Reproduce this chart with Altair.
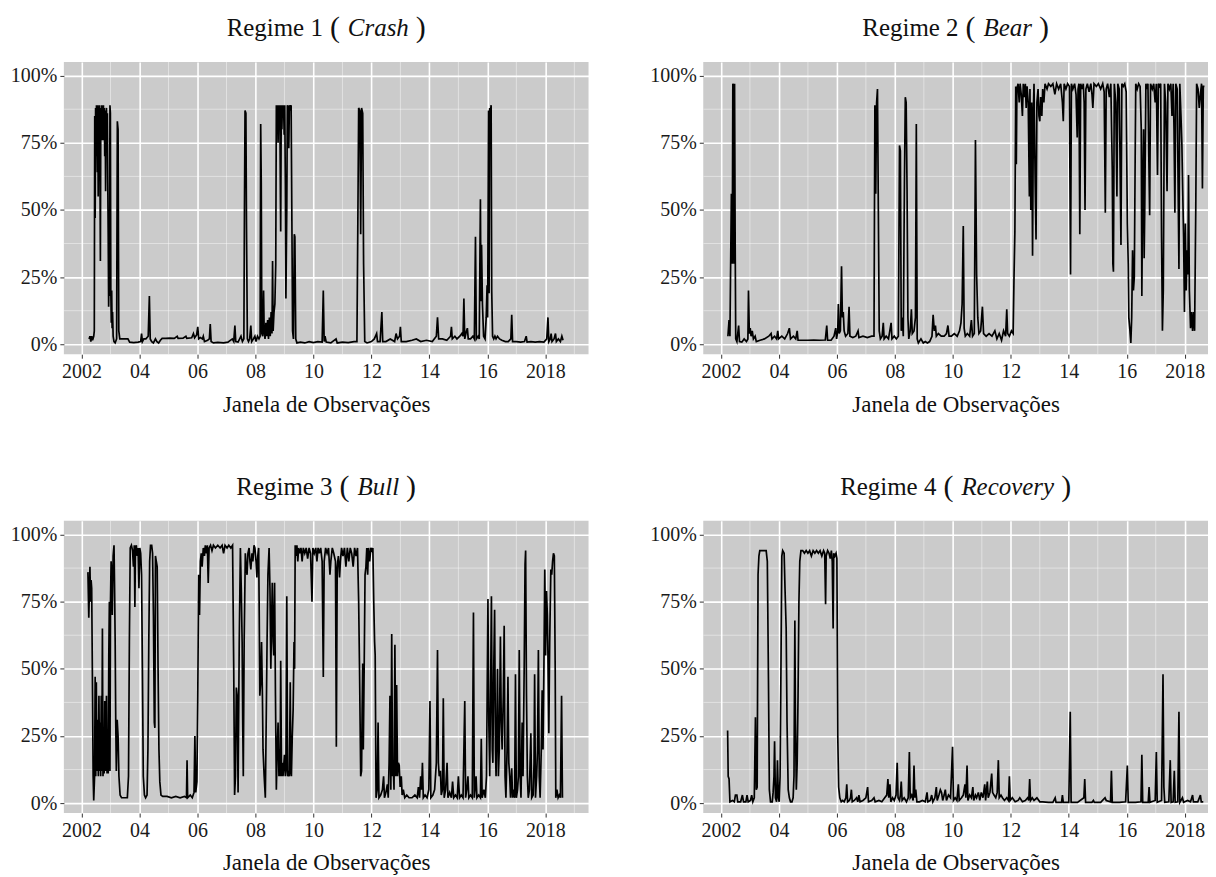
import altair as alt
import pandas as pd

# ---------------- data ----------------
REGIME1 = [
    (2002.26, 0.02), (2002.29, 0.03), (2002.32, 0.01), (2002.35, 0.03), (2002.38, 0.015), (2002.42, 0.03),
    (2002.44, 0.05), (2002.455, 0.85), (2002.47, 0.47), (2002.485, 0.88), (2002.50, 0.70), (2002.515, 0.89),
    (2002.53, 0.80), (2002.545, 0.64), (2002.56, 0.89), (2002.575, 0.55), (2002.59, 0.88), (2002.605, 0.75),
    (2002.62, 0.89), (2002.635, 0.65), (2002.65, 0.31), (2002.665, 0.88), (2002.68, 0.80), (2002.695, 0.89),
    (2002.71, 0.76), (2002.725, 0.88), (2002.74, 0.82), (2002.755, 0.89), (2002.77, 0.76), (2002.785, 0.88),
    (2002.80, 0.70), (2002.815, 0.87), (2002.83, 0.57), (2002.845, 0.80), (2002.86, 0.88), (2002.875, 0.74),
    (2002.89, 0.86), (2002.905, 0.60), (2002.92, 0.40), (2002.935, 0.14), (2002.95, 0.30), (2002.965, 0.18),
    (2002.98, 0.89), (2002.995, 0.86), (2003.01, 0.20), (2003.025, 0.08), (2003.04, 0.20), (2003.055, 0.06),
    (2003.07, 0.12), (2003.09, 0.03), (2003.12, 0.01), (2003.16, 0.005), (2003.21, 0.02), (2003.235, 0.83),
    (2003.26, 0.80), (2003.285, 0.05), (2003.32, 0.02),
    (2003.40, 0.02), (2003.50, 0.02), (2003.60, 0.02), (2003.66, 0.008), (2003.80, 0.006), (2003.95, 0.008),
    (2004.04, 0.01), (2004.07, 0.04), (2004.10, 0.01), (2004.15, 0.02), (2004.22, 0.02), (2004.30, 0.03),
    (2004.34, 0.18), (2004.37, 0.02), (2004.42, 0.01), (2004.48, 0.005), (2004.55, 0.02), (2004.60, 0.01),
    (2004.66, 0.005), (2004.72, 0.015), (2004.78, 0.022), (2004.90, 0.022), (2005.05, 0.023), (2005.20, 0.022),
    (2005.30, 0.03), (2005.33, 0.022), (2005.50, 0.023), (2005.60, 0.03), (2005.63, 0.022), (2005.80, 0.024),
    (2005.86, 0.04), (2005.90, 0.024), (2005.97, 0.035), (2006.01, 0.065), (2006.04, 0.02), (2006.10, 0.025),
    (2006.17, 0.02), (2006.20, 0.03), (2006.24, 0.01), (2006.35, 0.015), (2006.41, 0.02), (2006.44, 0.075),
    (2006.47, 0.01), (2006.55, 0.005), (2006.70, 0.007), (2006.90, 0.005), (2007.05, 0.008), (2007.20, 0.02),
    (2007.25, 0.01), (2007.29, 0.07), (2007.32, 0.01), (2007.40, 0.008), (2007.50, 0.03), (2007.55, 0.01),
    (2007.60, 0.02), (2007.62, 0.50), (2007.64, 0.87), (2007.67, 0.86), (2007.69, 0.45), (2007.72, 0.02),
    (2007.76, 0.01), (2007.80, 0.02), (2007.84, 0.07), (2007.87, 0.01), (2007.93, 0.02), (2007.98, 0.03),
    (2008.02, 0.01), (2008.07, 0.03), (2008.12, 0.02), (2008.16, 0.03), (2008.18, 0.82), (2008.20, 0.60),
    (2008.22, 0.04), (2008.25, 0.03), (2008.28, 0.20), (2008.30, 0.05), (2008.33, 0.02), (2008.36, 0.08),
    (2008.39, 0.03), (2008.42, 0.09), (2008.45, 0.02), (2008.48, 0.10), (2008.51, 0.03), (2008.54, 0.12),
    (2008.57, 0.04), (2008.59, 0.31), (2008.61, 0.05), (2008.64, 0.12), (2008.67, 0.15), (2008.70, 0.30),
    (2008.72, 0.89), (2008.74, 0.80), (2008.76, 0.89), (2008.78, 0.75), (2008.80, 0.89), (2008.82, 0.85),
    (2008.84, 0.89), (2008.86, 0.55), (2008.87, 0.42), (2008.89, 0.89), (2008.91, 0.80), (2008.93, 0.89),
    (2008.95, 0.85), (2008.97, 0.89), (2008.99, 0.78), (2009.01, 0.89), (2009.03, 0.60), (2009.05, 0.17),
    (2009.08, 0.50), (2009.10, 0.89), (2009.13, 0.88), (2009.15, 0.73), (2009.17, 0.89), (2009.20, 0.87),
    (2009.23, 0.89), (2009.26, 0.40), (2009.28, 0.05), (2009.31, 0.02), (2009.34, 0.41), (2009.36, 0.40),
    (2009.39, 0.02), (2009.43, 0.005), (2009.55, 0.008), (2009.70, 0.005), (2009.85, 0.01), (2010.00, 0.006),
    (2010.15, 0.01), (2010.30, 0.008), (2010.34, 0.20), (2010.37, 0.01), (2010.40, 0.03), (2010.44, 0.008),
    (2010.60, 0.005), (2010.78, 0.02), (2010.82, 0.005), (2011.00, 0.008), (2011.20, 0.006), (2011.40, 0.01),
    (2011.50, 0.01), (2011.53, 0.43), (2011.56, 0.88), (2011.60, 0.87), (2011.63, 0.41), (2011.66, 0.88),
    (2011.70, 0.86), (2011.73, 0.30), (2011.77, 0.01), (2011.85, 0.005), (2012.00, 0.01), (2012.10, 0.02),
    (2012.18, 0.04), (2012.21, 0.01), (2012.30, 0.01), (2012.36, 0.12), (2012.39, 0.01), (2012.50, 0.01),
    (2012.65, 0.02), (2012.80, 0.01), (2012.85, 0.04), (2012.90, 0.02), (2012.97, 0.03), (2013.00, 0.065),
    (2013.03, 0.01), (2013.20, 0.01), (2013.40, 0.015), (2013.55, 0.02), (2013.70, 0.01), (2013.90, 0.015),
    (2014.10, 0.01), (2014.24, 0.03), (2014.28, 0.10), (2014.32, 0.02), (2014.45, 0.02), (2014.60, 0.015),
    (2014.73, 0.03), (2014.76, 0.065), (2014.79, 0.02), (2014.88, 0.03), (2014.95, 0.02), (2015.05, 0.03),
    (2015.12, 0.04), (2015.16, 0.03), (2015.19, 0.17), (2015.22, 0.02), (2015.28, 0.05), (2015.31, 0.06),
    (2015.34, 0.02), (2015.42, 0.02), (2015.50, 0.03), (2015.55, 0.02), (2015.59, 0.40), (2015.62, 0.02),
    (2015.68, 0.03), (2015.72, 0.02), (2015.76, 0.54), (2015.78, 0.16), (2015.80, 0.37), (2015.83, 0.15),
    (2015.87, 0.03), (2015.92, 0.02), (2015.96, 0.10), (2015.99, 0.22), (2016.01, 0.10), (2016.04, 0.87),
    (2016.06, 0.19), (2016.08, 0.88), (2016.11, 0.87), (2016.13, 0.89), (2016.15, 0.20), (2016.18, 0.03),
    (2016.22, 0.02), (2016.26, 0.03), (2016.30, 0.02), (2016.35, 0.03), (2016.42, 0.02), (2016.50, 0.015),
    (2016.62, 0.01), (2016.72, 0.01), (2016.81, 0.02), (2016.84, 0.11), (2016.87, 0.01), (2017.00, 0.01),
    (2017.15, 0.008), (2017.28, 0.01), (2017.34, 0.03), (2017.37, 0.008), (2017.50, 0.01), (2017.65, 0.008),
    (2017.80, 0.01), (2017.95, 0.008), (2018.05, 0.02), (2018.09, 0.10), (2018.12, 0.01), (2018.17, 0.02),
    (2018.20, 0.04), (2018.23, 0.01), (2018.30, 0.02), (2018.35, 0.04), (2018.38, 0.01), (2018.45, 0.02),
    (2018.52, 0.01), (2018.57, 0.03), (2018.61, 0.015),
]

REGIME2 = [
    (2002.24, 0.03), (2002.28, 0.09), (2002.31, 0.03), (2002.33, 0.25), (2002.36, 0.56), (2002.39, 0.30),
    (2002.41, 0.97), (2002.43, 0.96), (2002.45, 0.30), (2002.47, 0.97), (2002.49, 0.40), (2002.51, 0.02),
    (2002.55, 0.01), (2002.61, 0.07), (2002.64, 0.01), (2002.72, 0.008), (2002.80, 0.02), (2002.88, 0.01),
    (2002.93, 0.02), (2002.95, 0.20), (2002.98, 0.04), (2003.01, 0.06), (2003.04, 0.03), (2003.08, 0.05),
    (2003.12, 0.02), (2003.18, 0.03), (2003.22, 0.01), (2003.35, 0.015), (2003.50, 0.02), (2003.65, 0.03),
    (2003.73, 0.04), (2003.76, 0.02), (2003.85, 0.03), (2003.92, 0.02), (2003.96, 0.05), (2003.99, 0.02),
    (2004.10, 0.03), (2004.20, 0.02), (2004.30, 0.04), (2004.36, 0.06), (2004.40, 0.02), (2004.50, 0.03),
    (2004.58, 0.02), (2004.63, 0.05), (2004.66, 0.015), (2004.80, 0.015), (2005.00, 0.015), (2005.20, 0.016),
    (2005.40, 0.015), (2005.60, 0.016), (2005.65, 0.07), (2005.68, 0.015), (2005.80, 0.015), (2005.90, 0.03),
    (2005.96, 0.06), (2005.99, 0.02), (2006.03, 0.05), (2006.05, 0.15), (2006.08, 0.04), (2006.12, 0.05),
    (2006.16, 0.29), (2006.19, 0.10), (2006.22, 0.12), (2006.25, 0.05), (2006.30, 0.03), (2006.38, 0.04),
    (2006.42, 0.14), (2006.45, 0.03), (2006.55, 0.025), (2006.65, 0.03), (2006.73, 0.05), (2006.76, 0.025),
    (2006.90, 0.03), (2007.05, 0.025), (2007.20, 0.03), (2007.28, 0.03), (2007.31, 0.89), (2007.34, 0.56),
    (2007.37, 0.90), (2007.40, 0.95), (2007.43, 0.50), (2007.46, 0.05), (2007.50, 0.02), (2007.56, 0.03),
    (2007.60, 0.08), (2007.63, 0.02), (2007.70, 0.03), (2007.78, 0.02), (2007.87, 0.08), (2007.90, 0.02),
    (2007.98, 0.03), (2008.05, 0.02), (2008.12, 0.03), (2008.16, 0.74), (2008.19, 0.72), (2008.22, 0.05),
    (2008.26, 0.10), (2008.29, 0.03), (2008.33, 0.60), (2008.36, 0.92), (2008.39, 0.90), (2008.42, 0.58),
    (2008.45, 0.10), (2008.48, 0.02), (2008.53, 0.05), (2008.57, 0.13), (2008.60, 0.04), (2008.66, 0.05),
    (2008.71, 0.10), (2008.74, 0.82), (2008.77, 0.02), (2008.81, 0.005), (2008.90, 0.02), (2008.98, 0.005),
    (2009.05, 0.01), (2009.12, 0.005), (2009.20, 0.01), (2009.28, 0.03), (2009.32, 0.11), (2009.36, 0.05),
    (2009.40, 0.07), (2009.43, 0.03), (2009.50, 0.04), (2009.60, 0.03), (2009.70, 0.03), (2009.78, 0.04),
    (2009.83, 0.07), (2009.87, 0.03), (2009.95, 0.03), (2010.05, 0.04), (2010.15, 0.03), (2010.23, 0.05),
    (2010.28, 0.08), (2010.32, 0.15), (2010.36, 0.44), (2010.39, 0.06), (2010.43, 0.03), (2010.50, 0.04),
    (2010.58, 0.03), (2010.64, 0.09), (2010.68, 0.03), (2010.74, 0.04), (2010.78, 0.76), (2010.82, 0.26),
    (2010.86, 0.10), (2010.90, 0.04), (2010.96, 0.05), (2011.02, 0.14), (2011.06, 0.04), (2011.15, 0.03),
    (2011.25, 0.04), (2011.35, 0.03), (2011.45, 0.05), (2011.52, 0.02), (2011.60, 0.04), (2011.68, 0.015),
    (2011.75, 0.05), (2011.82, 0.03), (2011.86, 0.13), (2011.89, 0.04), (2011.95, 0.03), (2012.02, 0.05),
    (2012.08, 0.04), (2012.11, 0.25), (2012.14, 0.42), (2012.17, 0.96), (2012.19, 0.67), (2012.21, 0.95),
    (2012.25, 0.97), (2012.29, 0.90), (2012.32, 0.97), (2012.36, 0.93), (2012.40, 0.85), (2012.43, 0.97),
    (2012.47, 0.92), (2012.50, 0.97), (2012.53, 0.88), (2012.56, 0.96), (2012.60, 0.90), (2012.64, 0.55),
    (2012.66, 0.95), (2012.69, 0.50), (2012.72, 0.90), (2012.75, 0.33), (2012.78, 0.88), (2012.80, 0.97),
    (2012.84, 0.60), (2012.87, 0.39), (2012.90, 0.90), (2012.94, 0.95), (2012.97, 0.85), (2013.00, 0.83),
    (2013.03, 0.92), (2013.07, 0.85), (2013.10, 0.95), (2013.14, 0.90), (2013.18, 0.97), (2013.25, 0.95),
    (2013.30, 0.97), (2013.38, 0.96), (2013.45, 0.97), (2013.52, 0.93), (2013.58, 0.97), (2013.65, 0.95),
    (2013.72, 0.97), (2013.78, 0.90), (2013.81, 0.83), (2013.84, 0.97), (2013.90, 0.95), (2013.96, 0.97),
    (2014.02, 0.96), (2014.06, 0.26), (2014.09, 0.97), (2014.14, 0.95), (2014.20, 0.97), (2014.25, 0.93),
    (2014.29, 0.77), (2014.32, 0.95), (2014.35, 0.97), (2014.38, 0.41), (2014.41, 0.97), (2014.46, 0.95),
    (2014.50, 0.97), (2014.53, 0.90), (2014.56, 0.50), (2014.59, 0.95), (2014.64, 0.97), (2014.70, 0.94),
    (2014.76, 0.97), (2014.80, 0.93), (2014.83, 0.88), (2014.87, 0.97), (2014.95, 0.96), (2015.02, 0.97),
    (2015.10, 0.95), (2015.17, 0.97), (2015.22, 0.94), (2015.26, 0.49), (2015.29, 0.95), (2015.34, 0.97),
    (2015.40, 0.92), (2015.45, 0.97), (2015.50, 0.65), (2015.52, 0.30), (2015.54, 0.27), (2015.57, 0.97),
    (2015.62, 0.90), (2015.66, 0.55), (2015.69, 0.97), (2015.74, 0.95), (2015.80, 0.37), (2015.83, 0.97),
    (2015.88, 0.96), (2015.93, 0.97), (2015.98, 0.94), (2016.02, 0.45), (2016.05, 0.30), (2016.07, 0.10),
    (2016.11, 0.05), (2016.14, 0.005), (2016.17, 0.10), (2016.20, 0.35), (2016.23, 0.20), (2016.26, 0.25),
    (2016.29, 0.70), (2016.31, 0.97), (2016.36, 0.95), (2016.41, 0.97), (2016.46, 0.96), (2016.50, 0.80),
    (2016.52, 0.18), (2016.55, 0.60), (2016.58, 0.80), (2016.60, 0.32), (2016.62, 0.50), (2016.66, 0.97),
    (2016.69, 0.95), (2016.73, 0.97), (2016.76, 0.70), (2016.79, 0.48), (2016.82, 0.97), (2016.88, 0.95),
    (2016.93, 0.97), (2016.98, 0.90), (2017.02, 0.97), (2017.06, 0.63), (2017.09, 0.97), (2017.13, 0.96),
    (2017.17, 0.97), (2017.20, 0.40), (2017.23, 0.05), (2017.26, 0.20), (2017.30, 0.97), (2017.34, 0.90),
    (2017.39, 0.57), (2017.42, 0.97), (2017.47, 0.95), (2017.52, 0.97), (2017.56, 0.85), (2017.60, 0.97),
    (2017.63, 0.80), (2017.66, 0.49), (2017.69, 0.97), (2017.74, 0.95), (2017.77, 0.60), (2017.80, 0.28),
    (2017.83, 0.97), (2017.87, 0.85), (2017.90, 0.75), (2017.93, 0.57), (2017.96, 0.40), (2017.99, 0.12),
    (2018.02, 0.45), (2018.05, 0.20), (2018.08, 0.35), (2018.11, 0.26), (2018.13, 0.63), (2018.16, 0.20),
    (2018.20, 0.06), (2018.24, 0.12), (2018.27, 0.05), (2018.31, 0.12), (2018.34, 0.05), (2018.38, 0.50),
    (2018.41, 0.97), (2018.46, 0.95), (2018.50, 0.88), (2018.54, 0.93), (2018.58, 0.97), (2018.61, 0.58),
    (2018.64, 0.96), (2018.68, 0.96),
]

REGIME3 = [
    (2002.22, 0.86), (2002.25, 0.69), (2002.29, 0.88), (2002.31, 0.75), (2002.33, 0.83), (2002.35, 0.80),
    (2002.38, 0.40), (2002.40, 0.10), (2002.42, 0.01), (2002.45, 0.10), (2002.47, 0.47), (2002.49, 0.10),
    (2002.51, 0.45), (2002.53, 0.12), (2002.56, 0.31), (2002.58, 0.10), (2002.60, 0.40), (2002.62, 0.12),
    (2002.64, 0.30), (2002.66, 0.10), (2002.68, 0.40), (2002.70, 0.12), (2002.72, 0.65), (2002.74, 0.10),
    (2002.76, 0.20), (2002.78, 0.11), (2002.80, 0.38), (2002.82, 0.12), (2002.84, 0.14), (2002.86, 0.40),
    (2002.88, 0.11), (2002.90, 0.25), (2002.92, 0.11), (2002.94, 0.55), (2002.96, 0.75), (2002.98, 0.12),
    (2003.00, 0.76), (2003.02, 0.90), (2003.04, 0.85), (2003.06, 0.70), (2003.09, 0.92), (2003.12, 0.96),
    (2003.14, 0.80), (2003.16, 0.60), (2003.18, 0.30), (2003.20, 0.12), (2003.23, 0.31), (2003.26, 0.25),
    (2003.29, 0.10), (2003.33, 0.03), (2003.38, 0.02), (2003.45, 0.02), (2003.52, 0.02), (2003.58, 0.02),
    (2003.62, 0.10), (2003.65, 0.60), (2003.68, 0.95), (2003.72, 0.96), (2003.76, 0.94), (2003.79, 0.88),
    (2003.82, 0.96), (2003.84, 0.73), (2003.86, 0.95), (2003.89, 0.96), (2003.92, 0.92), (2003.95, 0.95),
    (2003.98, 0.80), (2004.01, 0.95), (2004.04, 0.93), (2004.07, 0.85), (2004.10, 0.50), (2004.13, 0.10),
    (2004.17, 0.03), (2004.21, 0.02), (2004.26, 0.03), (2004.29, 0.20), (2004.32, 0.60), (2004.35, 0.90),
    (2004.38, 0.96), (2004.42, 0.96), (2004.45, 0.93), (2004.48, 0.70), (2004.51, 0.30), (2004.53, 0.28),
    (2004.55, 0.92), (2004.58, 0.90), (2004.61, 0.88), (2004.64, 0.50), (2004.67, 0.20), (2004.70, 0.08),
    (2004.74, 0.03), (2004.80, 0.025), (2004.95, 0.025), (2005.10, 0.02), (2005.25, 0.025), (2005.40, 0.02),
    (2005.55, 0.025), (2005.62, 0.02), (2005.64, 0.16), (2005.66, 0.02), (2005.75, 0.03), (2005.82, 0.02),
    (2005.88, 0.04), (2005.91, 0.25), (2005.94, 0.04), (2005.98, 0.08), (2006.01, 0.40), (2006.04, 0.85),
    (2006.07, 0.70), (2006.10, 0.90), (2006.13, 0.93), (2006.16, 0.88), (2006.20, 0.95), (2006.24, 0.92),
    (2006.27, 0.96), (2006.31, 0.93), (2006.34, 0.96), (2006.37, 0.82), (2006.40, 0.95), (2006.45, 0.96),
    (2006.50, 0.94), (2006.55, 0.96), (2006.62, 0.95), (2006.70, 0.96), (2006.78, 0.95), (2006.85, 0.96),
    (2006.90, 0.93), (2006.95, 0.96), (2007.02, 0.95), (2007.08, 0.96), (2007.15, 0.95), (2007.21, 0.96),
    (2007.25, 0.50), (2007.28, 0.03), (2007.31, 0.10), (2007.34, 0.43), (2007.37, 0.40), (2007.40, 0.04),
    (2007.44, 0.60), (2007.48, 0.95), (2007.51, 0.80), (2007.54, 0.60), (2007.56, 0.30), (2007.58, 0.10),
    (2007.61, 0.60), (2007.65, 0.93), (2007.68, 0.88), (2007.71, 0.85), (2007.74, 0.93), (2007.78, 0.95),
    (2007.81, 0.90), (2007.84, 0.87), (2007.88, 0.93), (2007.91, 0.90), (2007.95, 0.96), (2007.98, 0.95),
    (2008.02, 0.90), (2008.05, 0.84), (2008.08, 0.92), (2008.11, 0.95), (2008.13, 0.70), (2008.15, 0.40),
    (2008.18, 0.45), (2008.21, 0.60), (2008.24, 0.40), (2008.26, 0.20), (2008.30, 0.10), (2008.34, 0.02),
    (2008.37, 0.30), (2008.40, 0.60), (2008.43, 0.85), (2008.47, 0.95), (2008.50, 0.80), (2008.53, 0.50),
    (2008.56, 0.70), (2008.58, 0.82), (2008.61, 0.60), (2008.63, 0.55), (2008.66, 0.82), (2008.69, 0.40),
    (2008.72, 0.05), (2008.75, 0.20), (2008.78, 0.30), (2008.81, 0.10), (2008.83, 0.20), (2008.85, 0.10),
    (2008.87, 0.53), (2008.90, 0.10), (2008.92, 0.15), (2008.95, 0.10), (2009.00, 0.18), (2009.03, 0.10),
    (2009.05, 0.12), (2009.08, 0.77), (2009.11, 0.10), (2009.14, 0.12), (2009.17, 0.10), (2009.20, 0.45),
    (2009.22, 0.12), (2009.24, 0.10), (2009.27, 0.25), (2009.30, 0.35), (2009.33, 0.60), (2009.35, 0.50),
    (2009.37, 0.96), (2009.40, 0.92), (2009.43, 0.96), (2009.46, 0.90), (2009.49, 0.95), (2009.53, 0.93),
    (2009.57, 0.95), (2009.61, 0.90), (2009.65, 0.95), (2009.70, 0.93), (2009.75, 0.95), (2009.80, 0.91),
    (2009.85, 0.95), (2009.90, 0.93), (2009.95, 0.75), (2009.98, 0.95), (2010.03, 0.93), (2010.08, 0.95),
    (2010.12, 0.90), (2010.16, 0.95), (2010.20, 0.93), (2010.25, 0.95), (2010.30, 0.90), (2010.34, 0.47),
    (2010.37, 0.90), (2010.42, 0.95), (2010.47, 0.93), (2010.52, 0.95), (2010.57, 0.85), (2010.60, 0.90),
    (2010.65, 0.95), (2010.70, 0.93), (2010.76, 0.90), (2010.79, 0.21), (2010.82, 0.88), (2010.86, 0.92),
    (2010.90, 0.84), (2010.93, 0.90), (2010.97, 0.95), (2011.02, 0.92), (2011.07, 0.95), (2011.12, 0.88),
    (2011.17, 0.95), (2011.22, 0.90), (2011.27, 0.95), (2011.32, 0.93), (2011.37, 0.88), (2011.42, 0.95),
    (2011.47, 0.92), (2011.52, 0.95), (2011.56, 0.75), (2011.59, 0.50), (2011.61, 0.30), (2011.63, 0.10),
    (2011.66, 0.12), (2011.68, 0.35), (2011.70, 0.52), (2011.72, 0.20), (2011.75, 0.50), (2011.78, 0.85),
    (2011.81, 0.88), (2011.84, 0.95), (2011.87, 0.85), (2011.90, 0.95), (2011.94, 0.90), (2011.98, 0.95),
    (2012.02, 0.94), (2012.05, 0.95), (2012.08, 0.75), (2012.11, 0.60), (2012.13, 0.55), (2012.16, 0.02),
    (2012.20, 0.05), (2012.23, 0.30), (2012.26, 0.02), (2012.32, 0.03), (2012.38, 0.05), (2012.42, 0.10),
    (2012.45, 0.02), (2012.50, 0.04), (2012.55, 0.07), (2012.58, 0.02), (2012.61, 0.15), (2012.64, 0.40),
    (2012.67, 0.05), (2012.70, 0.63), (2012.73, 0.10), (2012.75, 0.15), (2012.78, 0.05), (2012.81, 0.59),
    (2012.84, 0.10), (2012.87, 0.44), (2012.90, 0.10), (2012.93, 0.15), (2012.96, 0.14), (2012.99, 0.06),
    (2013.03, 0.10), (2013.06, 0.03), (2013.10, 0.05), (2013.15, 0.02), (2013.22, 0.03), (2013.30, 0.02),
    (2013.40, 0.02), (2013.50, 0.03), (2013.58, 0.02), (2013.62, 0.06), (2013.66, 0.02), (2013.70, 0.10),
    (2013.73, 0.05), (2013.76, 0.15), (2013.79, 0.02), (2013.85, 0.03), (2013.92, 0.02), (2013.98, 0.05),
    (2014.02, 0.38), (2014.05, 0.02), (2014.12, 0.03), (2014.18, 0.05), (2014.21, 0.10), (2014.24, 0.15),
    (2014.28, 0.57), (2014.31, 0.15), (2014.34, 0.10), (2014.38, 0.12), (2014.41, 0.03), (2014.45, 0.05),
    (2014.48, 0.39), (2014.51, 0.02), (2014.56, 0.05), (2014.61, 0.15), (2014.64, 0.02), (2014.70, 0.04),
    (2014.76, 0.02), (2014.80, 0.08), (2014.84, 0.02), (2014.90, 0.03), (2014.96, 0.02), (2015.00, 0.10),
    (2015.04, 0.02), (2015.10, 0.03), (2015.16, 0.02), (2015.22, 0.38), (2015.25, 0.02), (2015.30, 0.06),
    (2015.33, 0.10), (2015.36, 0.02), (2015.42, 0.03), (2015.48, 0.02), (2015.52, 0.71), (2015.55, 0.02),
    (2015.61, 0.10), (2015.64, 0.02), (2015.70, 0.03), (2015.76, 0.02), (2015.79, 0.24), (2015.82, 0.02),
    (2015.88, 0.05), (2015.93, 0.02), (2015.97, 0.10), (2016.02, 0.76), (2016.05, 0.30), (2016.08, 0.10),
    (2016.11, 0.40), (2016.14, 0.77), (2016.17, 0.20), (2016.19, 0.15), (2016.22, 0.50), (2016.25, 0.72),
    (2016.28, 0.20), (2016.30, 0.10), (2016.33, 0.30), (2016.35, 0.50), (2016.38, 0.10), (2016.41, 0.20),
    (2016.45, 0.62), (2016.48, 0.30), (2016.51, 0.20), (2016.55, 0.40), (2016.58, 0.66), (2016.61, 0.10),
    (2016.64, 0.02), (2016.68, 0.20), (2016.71, 0.47), (2016.74, 0.15), (2016.77, 0.10), (2016.80, 0.02),
    (2016.84, 0.13), (2016.87, 0.02), (2016.90, 0.05), (2016.94, 0.02), (2016.97, 0.48), (2017.00, 0.02),
    (2017.04, 0.05), (2017.07, 0.10), (2017.10, 0.57), (2017.13, 0.10), (2017.16, 0.02), (2017.20, 0.30),
    (2017.23, 0.10), (2017.27, 0.50), (2017.30, 0.89), (2017.32, 0.94), (2017.35, 0.40), (2017.38, 0.10),
    (2017.41, 0.02), (2017.45, 0.05), (2017.50, 0.26), (2017.53, 0.02), (2017.58, 0.03), (2017.61, 0.15),
    (2017.63, 0.48), (2017.66, 0.02), (2017.70, 0.10), (2017.73, 0.20), (2017.76, 0.57), (2017.79, 0.10),
    (2017.82, 0.02), (2017.86, 0.20), (2017.89, 0.42), (2017.92, 0.20), (2017.95, 0.50), (2017.98, 0.87),
    (2018.01, 0.55), (2018.04, 0.79), (2018.07, 0.70), (2018.09, 0.55), (2018.12, 0.26), (2018.15, 0.60),
    (2018.19, 0.87), (2018.22, 0.85), (2018.25, 0.90), (2018.28, 0.93), (2018.31, 0.92), (2018.34, 0.50),
    (2018.36, 0.02), (2018.40, 0.05), (2018.44, 0.02), (2018.48, 0.03), (2018.52, 0.02), (2018.56, 0.40),
    (2018.59, 0.02),
]

REGIME4 = [
    (2002.23, 0.27), (2002.25, 0.10), (2002.28, 0.09), (2002.31, 0.005), (2002.40, 0.01), (2002.46, 0.005),
    (2002.50, 0.03), (2002.55, 0.03), (2002.58, 0.005), (2002.68, 0.005), (2002.74, 0.03), (2002.78, 0.005),
    (2002.86, 0.005), (2002.90, 0.03), (2002.94, 0.005), (2003.02, 0.01), (2003.06, 0.03), (2003.10, 0.005),
    (2003.15, 0.02), (2003.19, 0.32), (2003.22, 0.05), (2003.25, 0.06), (2003.28, 0.85), (2003.31, 0.92),
    (2003.34, 0.94), (2003.45, 0.94), (2003.56, 0.94), (2003.60, 0.90), (2003.64, 0.45), (2003.67, 0.05),
    (2003.71, 0.005), (2003.77, 0.005), (2003.80, 0.04), (2003.83, 0.10), (2003.85, 0.23), (2003.88, 0.02),
    (2003.92, 0.005), (2003.95, 0.16), (2003.98, 0.02), (2004.01, 0.005), (2004.04, 0.10), (2004.07, 0.50),
    (2004.10, 0.92), (2004.13, 0.94), (2004.18, 0.93), (2004.21, 0.80), (2004.25, 0.65), (2004.28, 0.30),
    (2004.32, 0.05), (2004.36, 0.02), (2004.40, 0.005), (2004.45, 0.005), (2004.49, 0.02), (2004.52, 0.10),
    (2004.55, 0.68), (2004.57, 0.30), (2004.60, 0.05), (2004.63, 0.15), (2004.66, 0.40), (2004.69, 0.75),
    (2004.72, 0.90), (2004.76, 0.94), (2004.82, 0.94), (2004.88, 0.93), (2004.94, 0.94), (2005.00, 0.93),
    (2005.06, 0.94), (2005.12, 0.92), (2005.18, 0.94), (2005.24, 0.93), (2005.30, 0.94), (2005.36, 0.93),
    (2005.42, 0.94), (2005.48, 0.92), (2005.54, 0.94), (2005.58, 0.93), (2005.61, 0.74), (2005.63, 0.92),
    (2005.68, 0.94), (2005.73, 0.93), (2005.77, 0.91), (2005.81, 0.94), (2005.84, 0.90), (2005.87, 0.65),
    (2005.89, 0.93), (2005.93, 0.92), (2005.97, 0.93), (2006.00, 0.91), (2006.03, 0.25), (2006.06, 0.06),
    (2006.10, 0.02), (2006.15, 0.005), (2006.20, 0.01), (2006.25, 0.005), (2006.31, 0.02), (2006.34, 0.07),
    (2006.37, 0.005), (2006.43, 0.01), (2006.47, 0.02), (2006.50, 0.05), (2006.53, 0.005), (2006.60, 0.01),
    (2006.68, 0.02), (2006.72, 0.005), (2006.76, 0.03), (2006.80, 0.005), (2006.90, 0.01), (2007.00, 0.02),
    (2007.06, 0.06), (2007.09, 0.005), (2007.20, 0.01), (2007.28, 0.02), (2007.32, 0.005), (2007.45, 0.01),
    (2007.55, 0.005), (2007.65, 0.02), (2007.72, 0.03), (2007.76, 0.09), (2007.79, 0.02), (2007.83, 0.07),
    (2007.86, 0.005), (2007.92, 0.02), (2007.98, 0.01), (2008.04, 0.03), (2008.08, 0.15), (2008.11, 0.02),
    (2008.16, 0.01), (2008.19, 0.03), (2008.22, 0.08), (2008.25, 0.01), (2008.32, 0.02), (2008.40, 0.005),
    (2008.46, 0.02), (2008.50, 0.19), (2008.53, 0.02), (2008.58, 0.03), (2008.63, 0.01), (2008.66, 0.14),
    (2008.69, 0.02), (2008.72, 0.05), (2008.76, 0.005), (2008.85, 0.005), (2008.95, 0.01), (2009.05, 0.005),
    (2009.11, 0.04), (2009.14, 0.005), (2009.22, 0.01), (2009.27, 0.03), (2009.31, 0.005), (2009.38, 0.02),
    (2009.43, 0.06), (2009.46, 0.01), (2009.52, 0.03), (2009.57, 0.05), (2009.61, 0.04), (2009.65, 0.01),
    (2009.70, 0.03), (2009.74, 0.05), (2009.78, 0.01), (2009.85, 0.03), (2009.92, 0.02), (2009.99, 0.21),
    (2010.02, 0.01), (2010.08, 0.02), (2010.14, 0.01), (2010.19, 0.07), (2010.22, 0.01), (2010.30, 0.02),
    (2010.36, 0.03), (2010.42, 0.07), (2010.45, 0.02), (2010.49, 0.14), (2010.52, 0.01), (2010.58, 0.03),
    (2010.64, 0.02), (2010.69, 0.06), (2010.72, 0.01), (2010.78, 0.03), (2010.82, 0.02), (2010.88, 0.04),
    (2010.93, 0.01), (2010.98, 0.04), (2011.04, 0.02), (2011.10, 0.07), (2011.13, 0.01), (2011.19, 0.08),
    (2011.22, 0.02), (2011.28, 0.04), (2011.34, 0.11), (2011.37, 0.04), (2011.42, 0.03), (2011.48, 0.02),
    (2011.53, 0.04), (2011.57, 0.16), (2011.60, 0.02), (2011.66, 0.03), (2011.71, 0.02), (2011.78, 0.01),
    (2011.86, 0.02), (2011.92, 0.01), (2011.95, 0.10), (2011.98, 0.01), (2012.05, 0.02), (2012.15, 0.005),
    (2012.25, 0.01), (2012.31, 0.02), (2012.40, 0.005), (2012.50, 0.01), (2012.58, 0.02), (2012.62, 0.01),
    (2012.65, 0.09), (2012.68, 0.01), (2012.74, 0.02), (2012.80, 0.01), (2012.90, 0.02), (2013.00, 0.005),
    (2013.10, 0.005), (2013.30, 0.003), (2013.45, 0.003), (2013.53, 0.02), (2013.56, 0.003), (2013.75, 0.003),
    (2013.78, 0.03), (2013.81, 0.003), (2014.00, 0.003), (2014.05, 0.34), (2014.08, 0.003), (2014.30, 0.003),
    (2014.52, 0.02), (2014.55, 0.09), (2014.58, 0.003), (2014.80, 0.003), (2014.85, 0.01), (2014.88, 0.003),
    (2015.10, 0.003), (2015.25, 0.02), (2015.29, 0.01), (2015.44, 0.005), (2015.47, 0.12), (2015.50, 0.003),
    (2015.75, 0.003), (2015.96, 0.005), (2016.02, 0.14), (2016.05, 0.003), (2016.30, 0.003), (2016.49, 0.005),
    (2016.52, 0.18), (2016.55, 0.003), (2016.74, 0.003), (2016.77, 0.06), (2016.80, 0.003), (2016.98, 0.01),
    (2017.02, 0.19), (2017.05, 0.003), (2017.20, 0.01), (2017.25, 0.48), (2017.28, 0.06), (2017.31, 0.003),
    (2017.45, 0.005), (2017.50, 0.16), (2017.53, 0.003), (2017.60, 0.005), (2017.64, 0.12), (2017.67, 0.003),
    (2017.76, 0.005), (2017.80, 0.34), (2017.83, 0.003), (2017.92, 0.02), (2017.96, 0.003), (2018.10, 0.01),
    (2018.20, 0.005), (2018.27, 0.03), (2018.30, 0.005), (2018.45, 0.005), (2018.54, 0.03), (2018.57, 0.005),
    (2018.64, 0.005),
]

TITLES = [("Regime 1", "Crash"), ("Regime 2", "Bear"), ("Regime 3", "Bull"), ("Regime 4", "Recovery")]
X_TITLE = "Janela de Observações"
X_MAJOR = [2002, 2004, 2006, 2008, 2010, 2012, 2014, 2016, 2018]
X_LABELS = ["2002", "04", "06", "08", "10", "12", "14", "16", "2018"]
X_MINOR = [2003, 2005, 2007, 2009, 2011, 2013, 2015, 2017, 2019]
Y_MAJOR = [0, 0.25, 0.5, 0.75, 1.0]
Y_MINOR = [0.125, 0.375, 0.625, 0.875]

# ---------------- styling ----------------
FONT = "Liberation Serif"
BG = "#CBCBCB"
X_MIN = 2001.39
LEFT_W, RIGHT_W, PANEL_H = 526, 506, 293
PX_PER_YEAR = 29.06

# approximate glyph advance widths (per 1000 em) for title layout
REG_W = {"R": 667, "e": 444, "g": 500, "i": 278, "m": 778, " ": 250, "(": 333, ")": 333}
ITA_W = {"C": 667, "r": 389, "a": 500, "s": 389, "h": 500, "B": 611, "e": 444, "u": 500,
         "l": 278, "R": 611, "c": 444, "o": 500, "v": 444, "y": 444}


def text_width(s, size, table):
    return sum(table.get(ch, 500) for ch in s) * size / 1000.0


def title_layers(name, word, width):
    fs, pfs = 25, 30
    w_name = text_width(name, fs, REG_W)
    w_par = text_width("(", pfs, REG_W)
    w_word = text_width(word, fs, ITA_W)
    g1, g2, g3 = 7, 8, 7
    total = w_name + g1 + w_par + g2 + w_word + g3 + w_par
    x0 = width / 2 - total / 2
    ybase = -26
    pieces = [
        (name, x0, fs, "normal", ybase),
        ("(", x0 + w_name + g1, pfs, "normal", ybase + 1),
        (word, x0 + w_name + g1 + w_par + g2, fs, "italic", ybase),
        (")", x0 + w_name + g1 + w_par + g2 + w_word + g3, pfs, "normal", ybase + 1),
    ]
    layers = []
    for txt, x, size, style, yb in pieces:
        layers.append(
            alt.Chart(pd.DataFrame({"s": [txt]}))
            .mark_text(align="left", baseline="alphabetic", font=FONT, fontSize=size,
                       fontStyle=style, color="#111111")
            .encode(x=alt.value(x), y=alt.value(yb), text="s:N")
        )
    return layers


def panel(series, name, word, width):
    x_max = X_MIN + width / PX_PER_YEAR
    xscale = alt.Scale(domain=[X_MIN, x_max], nice=False, zero=False)
    yscale = alt.Scale(domain=[-0.037, 1.051], nice=False, zero=False)
    label_expr = "[" + ",".join("'%s'" % s for s in X_LABELS) + "][(datum.value - 2002) / 2]"
    x_axis = alt.Axis(values=X_MAJOR, labelExpr=label_expr, title=X_TITLE,
                      grid=True, labelFlush=False, labelOverlap=False)
    y_axis = alt.Axis(values=Y_MAJOR, format=".0%", title=None, grid=True, labelOverlap=False)

    df = pd.DataFrame(series, columns=["t", "p"])
    minor_x = (
        alt.Chart(pd.DataFrame({"t": X_MINOR}))
        .mark_rule(color="white", strokeWidth=0.8, opacity=0.55, clip=True)
        .encode(x=alt.X("t:Q", scale=xscale, axis=x_axis))
    )
    minor_y = (
        alt.Chart(pd.DataFrame({"p": Y_MINOR}))
        .mark_rule(color="white", strokeWidth=0.8, opacity=0.55, clip=True)
        .encode(y=alt.Y("p:Q", scale=yscale, axis=y_axis))
    )
    line = (
        alt.Chart(df)
        .mark_line(color="black", strokeWidth=1.7, clip=True)
        .encode(
            x=alt.X("t:Q", scale=xscale, axis=x_axis),
            y=alt.Y("p:Q", scale=yscale, axis=y_axis),
            order="t:Q",
        )
    )
    return alt.layer(minor_x, minor_y, line, *title_layers(name, word, width)).properties(
        width=width, height=PANEL_H
    )


p1 = panel(REGIME1, *TITLES[0], LEFT_W)
p2 = panel(REGIME2, *TITLES[1], RIGHT_W)
p3 = panel(REGIME3, *TITLES[2], LEFT_W)
p4 = panel(REGIME4, *TITLES[3], RIGHT_W)

chart = (
    alt.vconcat(
        alt.hconcat(p1, p2, spacing=61),
        alt.hconcat(p3, p4, spacing=61),
        spacing=56,
    )
    .properties(padding={"left": 2, "top": 4, "right": 0, "bottom": 0}, background="white")
    .configure_view(fill=BG, stroke=None)
    .configure_axis(
        domain=False,
        tickColor="#333333",
        tickSize=4,
        tickWidth=1,
        labelFont=FONT,
        labelFontSize=20,
        labelColor="#1a1a1a",
        labelPadding=3,
        titleFont=FONT,
        titleFontSize=23,
        titleFontWeight="normal",
        titleColor="#111111",
        titlePadding=12,
        gridColor="white",
        gridWidth=1.6,
        gridOpacity=1,
    )
)

chart.save("out.html", embed_options={"renderer": "svg", "actions": False})
